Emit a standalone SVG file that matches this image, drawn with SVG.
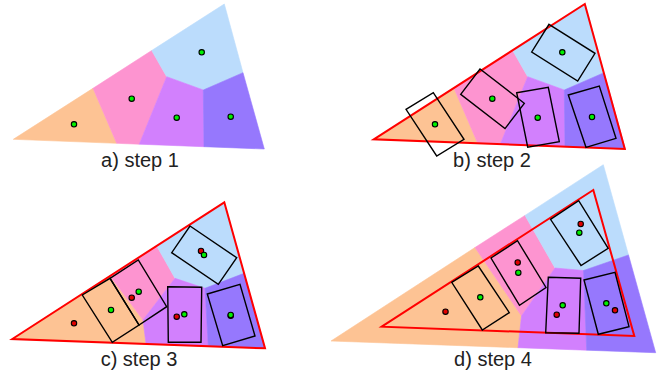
<svg xmlns="http://www.w3.org/2000/svg" xmlns:xlink="http://www.w3.org/1999/xlink" width="665" height="374" viewBox="0 0 665 374">
<style>
.o{fill:#fdc394;stroke:#fdc394}
.p{fill:#fd94d0;stroke:#fd94d0}
.b{fill:#bbdcfc;stroke:#bbdcfc}
.v{fill:#d280fd;stroke:#d280fd}
.u{fill:#9678fd;stroke:#9678fd}
.cell polygon{stroke-width:0.6;stroke-linejoin:round}
.tri{fill:none;stroke:#ff0000;stroke-width:2;stroke-linejoin:miter}
.r{fill:none;stroke:#000;stroke-width:1.4;stroke-linejoin:miter}
.g{fill:#00f000;stroke:#000;stroke-width:1.1}
.rd{fill:#e00000;stroke:#000;stroke-width:1.1}
.lbl{font-family:"Liberation Sans",Arial,sans-serif;font-size:20px;fill:#222;text-anchor:middle}
</style>
<defs>
<g id="cellsA" class="cell">
<polygon class="o" points="13.3,139.3 93,88.3 116.7,143.3"/>
<polygon class="p" points="93,88.3 151.7,50.5 166.7,76.7 139.3,144.2 116.7,143.3"/>
<polygon class="b" points="151.7,50.5 224.3,4 243,72.7 203.3,90 166.7,76.7"/>
<polygon class="v" points="166.7,76.7 203.3,90 204,146.7 139.3,144.2"/>
<polygon class="u" points="203.3,90 243,72.7 264.3,149 204,146.7"/>
</g>
<polygon id="triA" class="tri" points="13.3,139.3 224.3,4 264.3,149"/>
</defs>

<!-- a) step 1 -->
<g id="panel-a">
<use xlink:href="#cellsA" href="#cellsA"/>
<g id="pts-a">
<circle class="g" cx="74" cy="124.3" r="2.7"/>
<circle class="g" cx="131.7" cy="98.7" r="2.7"/>
<circle class="g" cx="201.7" cy="52.3" r="2.7"/>
<circle class="g" cx="176.7" cy="117.7" r="2.7"/>
<circle class="g" cx="230.7" cy="116.7" r="2.7"/>
</g>
<text class="lbl" x="140" y="166.5">a) step 1</text>
</g>

<!-- b) step 2 -->
<g id="panel-b">
<use xlink:href="#cellsA" href="#cellsA" transform="translate(361,0)"/>
<use xlink:href="#triA" href="#triA" transform="translate(360.5,0)"/>
<g id="rects-b">
<polygon class="r" points="406,109.3 433.3,92.7 464,139.3 436.7,156"/>
<polygon class="r" points="460.7,94.3 480,69 524.3,103.3 505,128.6"/>
<polygon class="r" points="516.7,92.7 548.3,87.3 559.3,141.7 527.7,147.1"/>
<polygon class="r" points="568.3,95 599.3,86 616,138.3 586,147.3"/>
<polygon class="r" points="549,24.3 595,53.3 577.7,81 531.7,52"/>
</g>
<g id="pts-b">
<circle class="g" cx="435" cy="124.3" r="2.7"/>
<circle class="g" cx="492.3" cy="98.7" r="2.7"/>
<circle class="g" cx="562.3" cy="52.3" r="2.7"/>
<circle class="g" cx="537.7" cy="117.7" r="2.7"/>
<circle class="g" cx="592" cy="117" r="2.7"/>
</g>
<text class="lbl" x="492" y="166.5">b) step 2</text>
</g>

<!-- c) step 3 -->
<g id="panel-c">
<g class="cell">
<polygon class="o" points="12.3,339 110,276 143,320 146,343.9"/>
<polygon class="p" points="110,276 156.7,245.9 175,278.3 143,320"/>
<polygon class="b" points="156.7,245.9 224.3,202.3 244.1,273.3 205,288.3 175,278.3"/>
<polygon class="v" points="175,278.3 205,288.3 208.3,346.2 146,343.9 143,320"/>
<polygon class="u" points="205,288.3 244.1,273.3 265,348.3 208.3,346.2"/>
</g>
<polygon class="tri" points="12.3,339 224.3,202.3 265,348.3"/>
<g id="rects-c">
<polygon class="r" points="82.3,295 110,278.3 139,325 112.3,342.3"/>
<polygon class="r" points="110,278.3 138.3,260 166.7,306.7 139,325"/>
<polygon class="r" points="190,226 236.7,257.7 218.3,284.3 171.7,252.7"/>
<polygon class="r" points="167.7,286.7 201.7,287.3 201,342.3 168.3,342.3"/>
<polygon class="r" points="207.3,294 240,284.3 255,336 222.7,345.7"/>
</g>
<g id="pts-c">
<circle class="rd" cx="74" cy="323.3" r="2.7"/>
<circle class="g" cx="111" cy="310" r="2.7"/>
<circle class="rd" cx="131.7" cy="297.7" r="2.7"/>
<circle class="g" cx="138.7" cy="291.7" r="2.7"/>
<circle class="rd" cx="201" cy="251" r="2.7"/>
<circle class="g" cx="204" cy="255" r="2.7"/>
<circle class="rd" cx="176.7" cy="316.7" r="2.7"/>
<circle class="g" cx="184.3" cy="314.3" r="2.7"/>
<circle class="rd" cx="230.7" cy="315.7" r="2.7"/>
<circle class="g" cx="230.7" cy="315" r="2.7"/>
</g>
<text class="lbl" x="139" y="366">c) step 3</text>
</g>

<!-- d) step 4 -->
<g id="panel-d">
<g class="cell">
<polygon class="o" points="331,341 475,247.5 521.5,316 518,347.7"/>
<polygon class="p" points="475,247.5 525,215.4 555,268 521.5,316"/>
<polygon class="b" points="525,215.4 603.3,164.7 628.5,255 583.5,270.5 555,268"/>
<polygon class="v" points="555,268 583.5,270.5 586.7,350.2 518,347.7 521.5,316"/>
<polygon class="u" points="583.5,270.5 628.5,255 655.7,352.7 586.7,350.2"/>
</g>
<polygon class="tri" points="381.7,326.7 593.3,190 634.3,336"/>
<g id="rects-d">
<polygon class="r" points="451.7,282.3 478.3,266 509.3,312.7 482.3,330"/>
<polygon class="r" points="491,258 517.5,240.7 546,287.5 519.5,305.3"/>
<polygon class="r" points="550.5,219.3 578.7,200.7 608.2,248.3 581,265.5"/>
<polygon class="r" points="548.3,277.3 580.7,278.3 579,333.3 545.7,332.7"/>
<polygon class="r" points="584,280 615,272.3 629,326.7 598.3,334.3"/>
</g>
<g id="pts-d">
<circle class="rd" cx="445.5" cy="311.7" r="2.7"/>
<circle class="g" cx="480.3" cy="297.3" r="2.7"/>
<circle class="rd" cx="517.7" cy="262.5" r="2.7"/>
<circle class="g" cx="518.3" cy="272.7" r="2.7"/>
<circle class="rd" cx="580.7" cy="224" r="2.7"/>
<circle class="g" cx="579.3" cy="232.7" r="2.7"/>
<circle class="rd" cx="556.7" cy="314.7" r="2.7"/>
<circle class="g" cx="562.7" cy="305.3" r="2.7"/>
<circle class="rd" cx="615" cy="310.3" r="2.7"/>
<circle class="g" cx="606.3" cy="303.3" r="2.7"/>
</g>
<text class="lbl" x="493" y="366">d) step 4</text>
</g>
</svg>
